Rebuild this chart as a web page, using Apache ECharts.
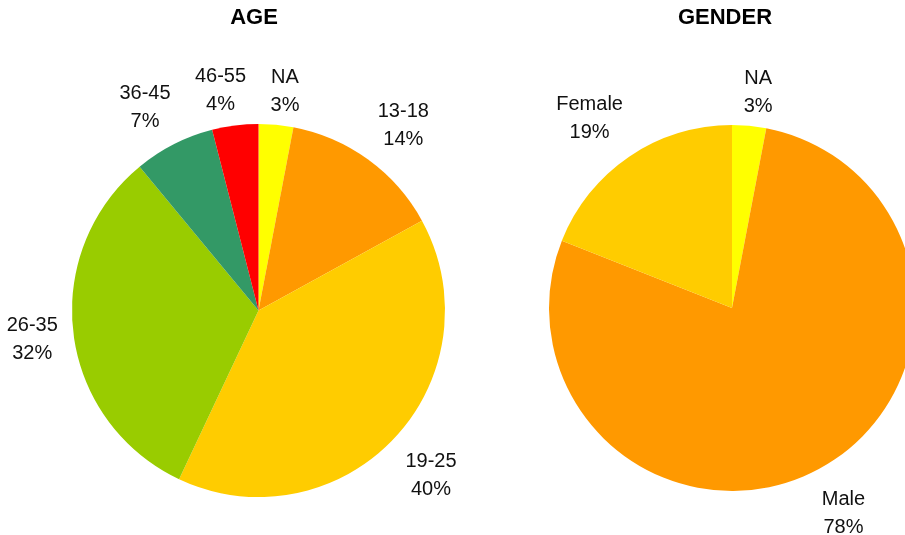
<!DOCTYPE html>
<html>
<head>
<meta charset="utf-8">
<script src="https://cdn.jsdelivr.net/npm/echarts@6/dist/echarts.min.js"></script>
<style>
  html, body { margin: 0; padding: 0; background: #ffffff; }
  #chart { width: 905px; height: 535px; }
</style>
</head>
<body>
<div id="chart"></div>
<script>
// Age groups (percent of respondents)
const ageLabels = ['NA', '13-18', '19-25', '26-35', '36-45', '46-55'];
const ageValues = [3, 14, 40, 32, 7, 4];
const ageColors = ['#FFFF00', '#FF9900', '#FFCC00', '#99CC00', '#339966', '#FF0000'];

// Gender (percent of respondents)
const genderLabels = ['NA', 'Male', 'Female'];
const genderValues = [3, 78, 19];
const genderColors = ['#FFFF00', '#FF9900', '#FFCC00'];

const FONT = '"Liberation Sans", Arial, Helvetica, sans-serif';

const pies = [
  { title: 'AGE', titleX: 254, labels: ageLabels, values: ageValues, colors: ageColors, cx: 258.5, cy: 310.5, r: 186.5 },
  { title: 'GENDER', titleX: 725, labels: genderLabels, values: genderValues, colors: genderColors, cx: 732, cy: 308, r: 183 }
];

// Mid-angle of every slice (radians, clockwise from 12 o'clock)
function midAngles(values) {
  const total = values.reduce((a, b) => a + b, 0);
  let acc = 0;
  return values.map(v => {
    const mid = (acc + v / 2) / total * Math.PI * 2;
    acc += v;
    return mid;
  });
}

const chart = echarts.init(document.getElementById('chart'), null, { renderer: 'canvas' });

const series = pies.map(p => {
  const mids = midAngles(p.values);
  return {
    type: 'pie',
    center: [p.cx, p.cy],
    radius: [0, p.r],
    startAngle: 90,
    clockwise: true,
    animation: false,
    silent: true,
    itemStyle: { borderWidth: 0 },
    label: {
      show: true,
      position: 'inside',
      overflow: 'none',
      formatter: '{b}\n{c}%',
      fontFamily: FONT,
      fontSize: 20,
      lineHeight: 28,
      color: '#111111'
    },
    labelLine: { show: false },
    // Labels centred just outside the rim, clear of the slice edge
    labelLayout: function (params) {
      const a = mids[params.dataIndex];
      const s = Math.sin(a), c = -Math.cos(a);
      const w = params.labelRect.width, h = params.labelRect.height;
      const d = p.r + 8 + (w / 2) * Math.abs(s) + (h / 2 - 4) * Math.abs(c);
      const side = s >= 0 ? 1 : -1;
      const push = side * w * (c < 0 ? 0.2 : 0.1);
      const drop = c > 0 ? 12 * c : 0;
      return {
        x: p.cx + d * s + push,
        y: p.cy + d * c + drop,
        align: 'center',
        verticalAlign: 'middle'
      };
    },
    data: p.labels.map((name, i) => ({
      name: name,
      value: p.values[i],
      itemStyle: { color: p.colors[i] }
    }))
  };
});

chart.setOption({
  backgroundColor: '#ffffff',
  animation: false,
  graphic: pies.map(p => ({
    type: 'text',
    x: p.titleX,
    y: 18,
    style: {
      text: p.title,
      font: 'bold 22px ' + FONT,
      fill: '#000000',
      align: 'center',
      verticalAlign: 'middle'
    }
  })),
  series: series
});
</script>
</body>
</html>
